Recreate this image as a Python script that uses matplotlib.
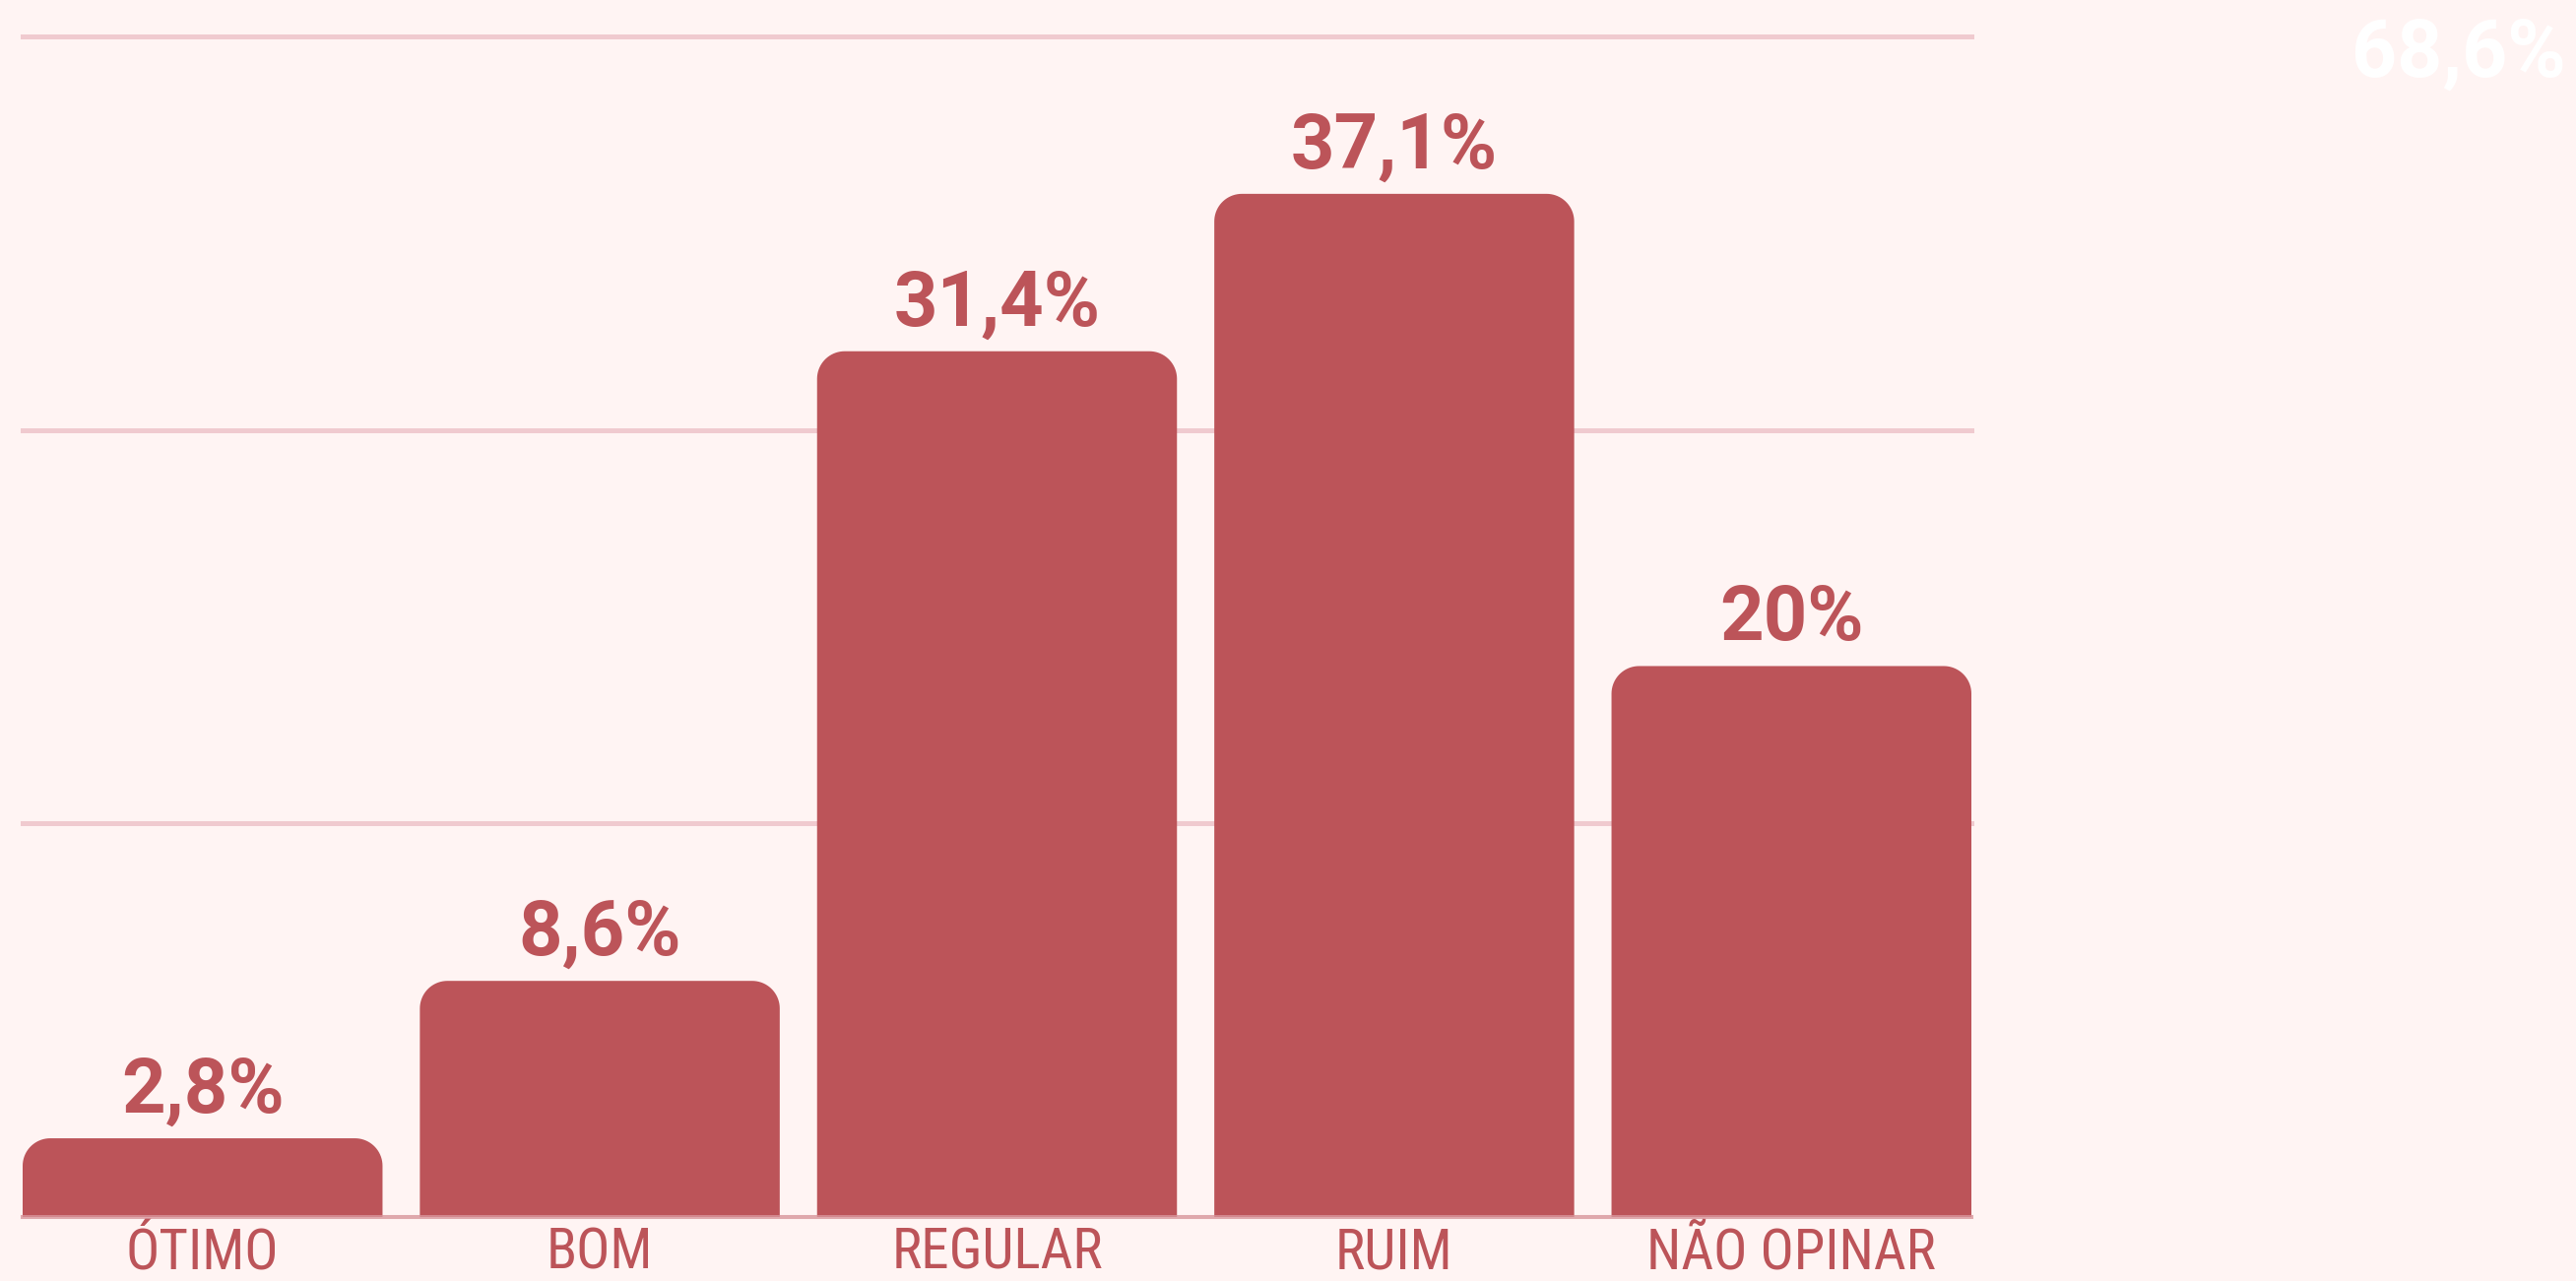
import numpy as np
import matplotlib.pyplot as plt
from matplotlib.patches import PathPatch
from matplotlib.path import Path

categories = ["ÓTIMO", "BOM", "REGULAR", "RUIM", "NÃO OPINAR"]
counts = [1, 3, 11, 13, 7]
pct_labels = ["2,8%", "8,6%", "31,4%", "37,1%", "20%"]
corner_label = "68,6%"

bg = "#fff4f3"
bar_col = "#bc5459"
grid_col = "#f0cacf"
base_col = "#d8959b"

W, H, DPI = 2616, 1301, 100
fig = plt.figure(figsize=(W / DPI, H / DPI), dpi=DPI, facecolor=bg)
ax = fig.add_axes([23 / W, 65 / H, 1979 / W, 1199 / H])
ax.set_facecolor(bg)

bw = 0.906
ax.set_xlim(-bw / 2, len(counts) - 1 + bw / 2)
ax.set_ylim(0, 15)

# corner radius in px -> data units
r_px = 28
rx = r_px / (1979 / (len(counts) - 1 + bw))
ry = r_px / (1199 / 15)


def top_rounded_bar(x0, w, h):
    t = np.linspace(0, np.pi / 2, 20)
    left = np.column_stack([x0 + rx - rx * np.cos(t), h - ry + ry * np.sin(t)])
    right = np.column_stack([x0 + w - rx + rx * np.sin(t), h - ry + ry * np.cos(t)])
    verts = np.vstack([[x0, 0], left, right, [x0 + w, 0], [x0, 0]])
    return Path(verts, closed=True)


font_lbl = ["Roboto Condensed", "DejaVu Sans"]

for y in [5, 10, 15]:
    ax.axhline(y, color=grid_col, lw=3.6, zorder=0, clip_on=False)

for i, v in enumerate(counts):
    ax.add_patch(PathPatch(top_rounded_bar(i - bw / 2, bw, v), fc=bar_col, ec="none", zorder=2))
    ax.annotate(pct_labels[i], xy=(i, v), xytext=(0, 19), textcoords="offset points",
                ha="center", va="baseline", fontsize=56, fontweight="bold",
                family=["Roboto", "DejaVu Sans"], color=bar_col, zorder=3)
    ax.annotate(categories[i], xy=(i, 0), xytext=(0, -38), textcoords="offset points",
                ha="center", va="baseline", fontsize=41,
                family=font_lbl, color=bar_col, annotation_clip=False)

ax.axhline(0, color=base_col, lw=2.9, alpha=0.8, zorder=4, clip_on=False)

for s in ax.spines.values():
    s.set_visible(False)
ax.set_xticks([])
ax.set_yticks([])

fig.text(2606 / W, 1 - 78 / H, corner_label, ha="right", va="baseline", fontsize=58,
         fontweight="bold", family=["Roboto", "DejaVu Sans"], color="white")

fig.savefig("out.png", dpi=DPI, facecolor=bg)
